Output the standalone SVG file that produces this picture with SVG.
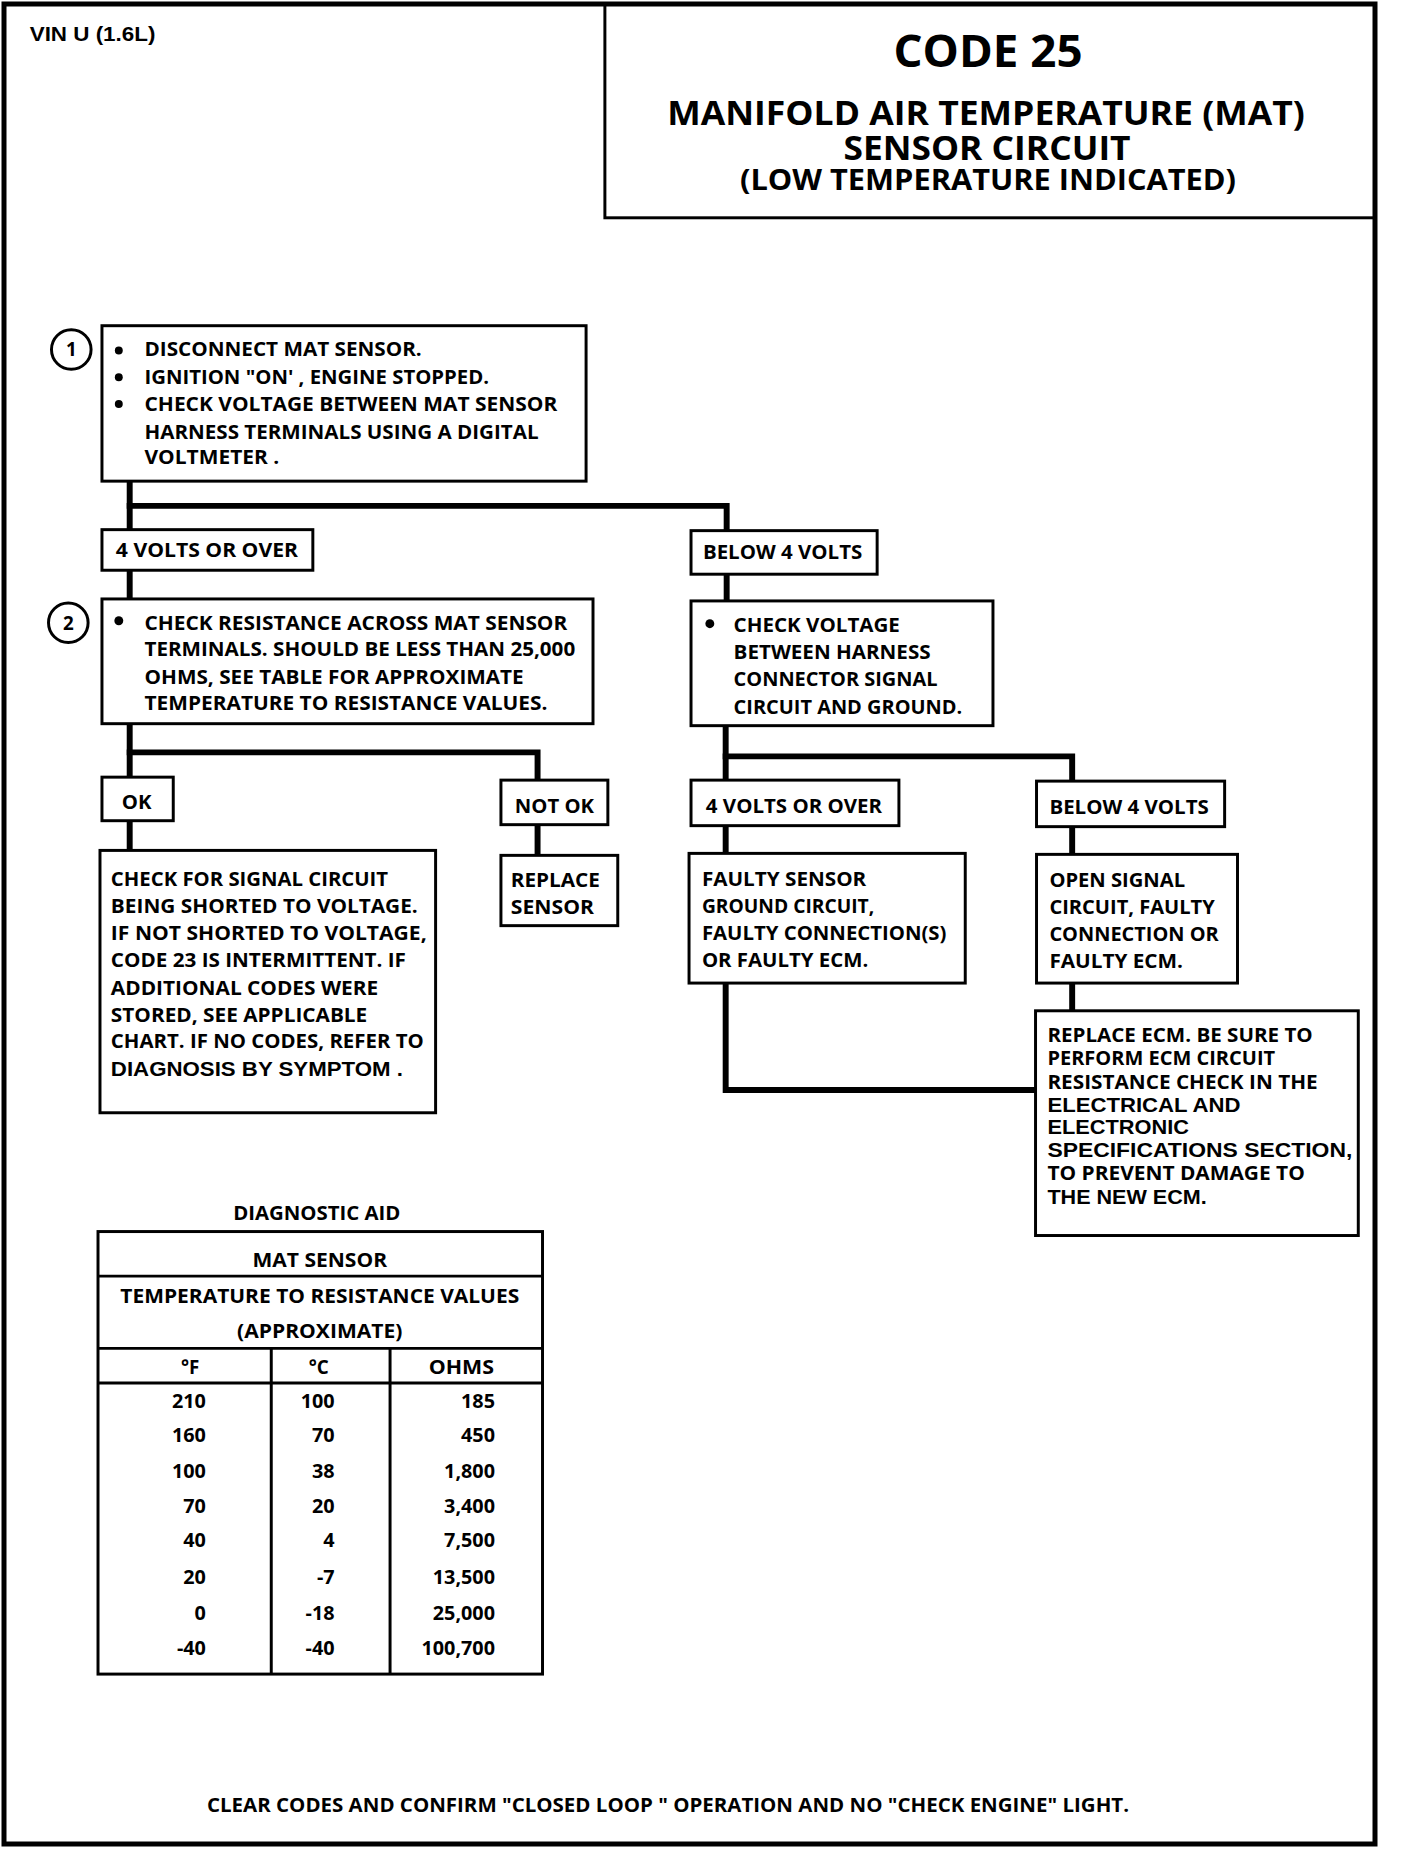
<svg xmlns="http://www.w3.org/2000/svg" width="1408" height="1852" viewBox="0 0 1408 1852">
<style>
.bx{fill:#fff;stroke:#000;stroke-width:3}
.cn{fill:none;stroke:#000;stroke-width:6;stroke-linecap:square}
.t{font-family:"Open Sans","Noto Sans",sans-serif;font-weight:700;font-size:19px;fill:#000}
.a{font-family:"Liberation Sans",Arial,sans-serif;font-weight:700;font-size:20px;fill:#000}
.ttl{font-family:"Open Sans","Noto Sans",sans-serif;font-weight:700;fill:#000;text-anchor:middle}
.n{font-family:"Open Sans","Noto Sans",sans-serif;font-weight:700;font-size:20px;fill:#000;text-anchor:end}
.c{text-anchor:middle}
</style>
<rect x="0" y="0" width="1408" height="1852" fill="#fff"/>
<g id="page"><rect x="4" y="4" width="1371" height="1840" fill="none" stroke="#000" stroke-width="5"/></g>
<g transform="scale(0.99)">
<g id="vin"><text class="a" x="30" y="41" font-size="19" textLength="127" lengthAdjust="spacingAndGlyphs">VIN U (1.6L)</text></g>
<g id="title">
<rect x="611" y="4" width="778" height="216" fill="none" stroke="#000" stroke-width="3"/>
<text class="ttl" x="998" y="68" font-size="46" textLength="191" lengthAdjust="spacingAndGlyphs">CODE 25</text>
<text class="ttl" x="996" y="126" font-size="35" textLength="644" lengthAdjust="spacingAndGlyphs">MANIFOLD AIR TEMPERATURE (MAT)</text>
<text class="ttl" x="997" y="162" font-size="35" textLength="290" lengthAdjust="spacingAndGlyphs">SENSOR CIRCUIT</text>
<text class="ttl" x="998" y="192" font-size="29" textLength="501" lengthAdjust="spacingAndGlyphs">(LOW TEMPERATURE INDICATED)</text>
</g>
<g id="connectors">
<polyline class="cn" points="131,486 131,535"/>
<polyline class="cn" points="131,511 734,511 734,536"/>
<polyline class="cn" points="131,576 131,605"/>
<polyline class="cn" points="131,731 131,785"/>
<polyline class="cn" points="131,760 543,760 543,788"/>
<polyline class="cn" points="131,829 131,859"/>
<polyline class="cn" points="543,833 543,864"/>
<polyline class="cn" points="734,580 734,607"/>
<polyline class="cn" points="733,733 733,788"/>
<polyline class="cn" points="733,764 1083,764 1083,789"/>
<polyline class="cn" points="733,834 733,862"/>
<polyline class="cn" points="1083,835 1083,863"/>
<polyline class="cn" points="1083,993 1083,1021"/>
<polyline class="cn" points="733,993 733,1101 1046,1101"/>
</g>
<g id="step1">
<circle cx="72" cy="353" r="20" fill="#fff" stroke="#000" stroke-width="3"/>
<text class="t c" x="72" y="360">1</text>
</g>
<g id="box1">
<rect class="bx" x="103" y="329" width="489" height="157"/>
<circle cx="120" cy="354" r="4"/><circle cx="120" cy="381" r="4"/><circle cx="120" cy="408" r="4"/>
<text class="t" x="146" y="360" textLength="280" lengthAdjust="spacingAndGlyphs">DISCONNECT MAT SENSOR.</text>
<text class="t" x="146" y="388" textLength="348" lengthAdjust="spacingAndGlyphs">IGNITION "ON' , ENGINE STOPPED.</text>
<text class="t" x="146" y="415" textLength="417" lengthAdjust="spacingAndGlyphs">CHECK VOLTAGE BETWEEN MAT SENSOR</text>
<text class="t" x="146" y="443" textLength="398" lengthAdjust="spacingAndGlyphs">HARNESS TERMINALS USING A DIGITAL</text>
<text class="t" x="146" y="469" textLength="136" lengthAdjust="spacingAndGlyphs">VOLTMETER .</text>
</g>
<g id="l4over1">
<rect class="bx" x="103" y="535" width="213" height="41"/>
<text class="t" x="117" y="563" textLength="184" lengthAdjust="spacingAndGlyphs">4 VOLTS OR OVER</text>
</g>
<g id="lbelow1">
<rect class="bx" x="698" y="536" width="188" height="44"/>
<text class="t" x="710" y="565" textLength="161" lengthAdjust="spacingAndGlyphs">BELOW 4 VOLTS</text>
</g>
<g id="step2">
<circle cx="69" cy="629" r="20" fill="#fff" stroke="#000" stroke-width="3"/>
<text class="t c" x="69" y="636">2</text>
</g>
<g id="box2">
<rect class="bx" x="103" y="605" width="496" height="126"/>
<circle cx="120" cy="627" r="4.5"/>
<text class="t" x="146" y="636" textLength="427" lengthAdjust="spacingAndGlyphs">CHECK RESISTANCE ACROSS MAT SENSOR</text>
<text class="t" x="146" y="663" textLength="435" lengthAdjust="spacingAndGlyphs">TERMINALS. SHOULD BE LESS THAN 25,000</text>
<text class="t" x="146" y="691" textLength="383" lengthAdjust="spacingAndGlyphs">OHMS, SEE TABLE FOR APPROXIMATE</text>
<text class="t" x="146" y="717" textLength="407" lengthAdjust="spacingAndGlyphs">TEMPERATURE TO RESISTANCE VALUES.</text>
</g>
<g id="box3">
<rect class="bx" x="698" y="607" width="305" height="126"/>
<circle cx="717" cy="630" r="4.5"/>
<text class="t" x="741" y="638" textLength="168" lengthAdjust="spacingAndGlyphs">CHECK VOLTAGE</text>
<text class="t" x="741" y="666" textLength="199" lengthAdjust="spacingAndGlyphs">BETWEEN HARNESS</text>
<text class="t" x="741" y="693" textLength="206" lengthAdjust="spacingAndGlyphs">CONNECTOR SIGNAL</text>
<text class="t" x="741" y="721" textLength="231" lengthAdjust="spacingAndGlyphs">CIRCUIT AND GROUND.</text>
</g>
<g id="lok">
<rect class="bx" x="103" y="785" width="72" height="44"/>
<text class="t" x="123" y="817" textLength="30" lengthAdjust="spacingAndGlyphs">OK</text>
</g>
<g id="lnotok">
<rect class="bx" x="506" y="788" width="108" height="45"/>
<text class="t" x="520" y="821" textLength="80" lengthAdjust="spacingAndGlyphs">NOT OK</text>
</g>
<g id="l4over2">
<rect class="bx" x="698" y="788" width="210" height="46"/>
<text class="t" x="713" y="821" textLength="178" lengthAdjust="spacingAndGlyphs">4 VOLTS OR OVER</text>
</g>
<g id="lbelow2">
<rect class="bx" x="1047" y="789" width="190" height="46"/>
<text class="t" x="1060" y="822" textLength="161" lengthAdjust="spacingAndGlyphs">BELOW 4 VOLTS</text>
</g>
<g id="box4">
<rect class="bx" x="101" y="859" width="339" height="265"/>
<text class="t" x="112" y="895" textLength="280" lengthAdjust="spacingAndGlyphs">CHECK FOR SIGNAL CIRCUIT</text>
<text class="t" x="112" y="922" textLength="310" lengthAdjust="spacingAndGlyphs">BEING SHORTED TO VOLTAGE.</text>
<text class="t" x="112" y="950" textLength="319" lengthAdjust="spacingAndGlyphs">IF  NOT SHORTED TO VOLTAGE,</text>
<text class="t" x="112" y="977" textLength="298" lengthAdjust="spacingAndGlyphs">CODE 23 IS INTERMITTENT.  IF</text>
<text class="t" x="112" y="1005" textLength="270" lengthAdjust="spacingAndGlyphs">ADDITIONAL CODES WERE</text>
<text class="t" x="112" y="1032" textLength="259" lengthAdjust="spacingAndGlyphs">STORED, SEE APPLICABLE</text>
<text class="t" x="112" y="1059" textLength="316" lengthAdjust="spacingAndGlyphs">CHART. IF NO CODES, REFER TO</text>
<text class="a" x="112" y="1087" textLength="295" lengthAdjust="spacingAndGlyphs">DIAGNOSIS BY SYMPTOM .</text>
</g>
<g id="box5">
<rect class="bx" x="506" y="864" width="118" height="71"/>
<text class="t" x="516" y="896" textLength="90" lengthAdjust="spacingAndGlyphs">REPLACE</text>
<text class="t" x="516" y="923" textLength="84" lengthAdjust="spacingAndGlyphs">SENSOR</text>
</g>
<g id="box6">
<rect class="bx" x="696" y="862" width="279" height="131"/>
<text class="t" x="709" y="895" textLength="166" lengthAdjust="spacingAndGlyphs">FAULTY SENSOR</text>
<text class="t" x="709" y="922" textLength="174" lengthAdjust="spacingAndGlyphs">GROUND CIRCUIT,</text>
<text class="t" x="709" y="950" textLength="247" lengthAdjust="spacingAndGlyphs">FAULTY CONNECTION(S)</text>
<text class="t" x="709" y="977" textLength="168" lengthAdjust="spacingAndGlyphs">OR FAULTY ECM.</text>
</g>
<g id="box7">
<rect class="bx" x="1047" y="863" width="203" height="130"/>
<text class="t" x="1060" y="896" textLength="137" lengthAdjust="spacingAndGlyphs">OPEN SIGNAL</text>
<text class="t" x="1060" y="923" textLength="167" lengthAdjust="spacingAndGlyphs">CIRCUIT, FAULTY</text>
<text class="t" x="1060" y="951" textLength="171" lengthAdjust="spacingAndGlyphs">CONNECTION OR</text>
<text class="t" x="1060" y="978" textLength="135" lengthAdjust="spacingAndGlyphs">FAULTY ECM.</text>
</g>
<g id="box8">
<rect class="bx" x="1046" y="1021" width="326" height="227"/>
<text class="t" x="1058" y="1053" textLength="268" lengthAdjust="spacingAndGlyphs">REPLACE ECM.  BE SURE TO</text>
<text class="t" x="1058" y="1076" textLength="230" lengthAdjust="spacingAndGlyphs">PERFORM ECM CIRCUIT</text>
<text class="t" x="1058" y="1100" textLength="273" lengthAdjust="spacingAndGlyphs">RESISTANCE CHECK IN THE</text>
<text class="a" x="1058" y="1123" textLength="195" lengthAdjust="spacingAndGlyphs">ELECTRICAL AND</text>
<text class="a" x="1058" y="1145" textLength="143" lengthAdjust="spacingAndGlyphs">ELECTRONIC</text>
<text class="a" x="1058" y="1169" textLength="308" lengthAdjust="spacingAndGlyphs">SPECIFICATIONS  SECTION,</text>
<text class="t" x="1058" y="1192" textLength="260" lengthAdjust="spacingAndGlyphs">TO PREVENT DAMAGE TO</text>
<text class="a" x="1058" y="1216" textLength="161" lengthAdjust="spacingAndGlyphs">THE  NEW ECM.</text>
</g>
<g id="table">
<text class="t c" x="320" y="1232" textLength="169" lengthAdjust="spacingAndGlyphs">DIAGNOSTIC AID</text>
<rect x="99" y="1244" width="449" height="447" fill="#fff" stroke="#000" stroke-width="3"/>
<line x1="99" y1="1289" x2="548" y2="1289" stroke="#000" stroke-width="3"/>
<line x1="99" y1="1362" x2="548" y2="1362" stroke="#000" stroke-width="3"/>
<line x1="99" y1="1397" x2="548" y2="1397" stroke="#000" stroke-width="3"/>
<line x1="274" y1="1362" x2="274" y2="1691" stroke="#000" stroke-width="3"/>
<line x1="394" y1="1362" x2="394" y2="1691" stroke="#000" stroke-width="3"/>
<text class="t c" x="323" y="1280" textLength="136" lengthAdjust="spacingAndGlyphs">MAT SENSOR</text>
<text class="t c" x="323" y="1316" textLength="403" lengthAdjust="spacingAndGlyphs">TEMPERATURE TO RESISTANCE VALUES</text>
<text class="t c" x="323" y="1352" textLength="167" lengthAdjust="spacingAndGlyphs">(APPROXIMATE)</text>
<text class="t c" x="192" y="1388">°F</text>
<text class="t c" x="322" y="1388">°C</text>
<text class="t c" x="466" y="1388" textLength="66" lengthAdjust="spacingAndGlyphs">OHMS</text>
<g class="n">
<text x="208" y="1422">210</text><text x="338" y="1422">100</text><text x="500" y="1422">185</text>
<text x="208" y="1457">160</text><text x="338" y="1457">70</text><text x="500" y="1457">450</text>
<text x="208" y="1493">100</text><text x="338" y="1493">38</text><text x="500" y="1493">1,800</text>
<text x="208" y="1528">70</text><text x="338" y="1528">20</text><text x="500" y="1528">3,400</text>
<text x="208" y="1563">40</text><text x="338" y="1563">4</text><text x="500" y="1563">7,500</text>
<text x="208" y="1600">20</text><text x="338" y="1600">-7</text><text x="500" y="1600">13,500</text>
<text x="208" y="1636">0</text><text x="338" y="1636">-18</text><text x="500" y="1636">25,000</text>
<text x="208" y="1672">-40</text><text x="338" y="1672">-40</text><text x="500" y="1672">100,700</text>
</g>
</g>
</g>
<g id="footer">
<text class="t" x="207" y="1812" textLength="922" lengthAdjust="spacingAndGlyphs">CLEAR CODES AND CONFIRM "CLOSED LOOP " OPERATION AND NO "CHECK ENGINE" LIGHT.</text>
</g>
</svg>
